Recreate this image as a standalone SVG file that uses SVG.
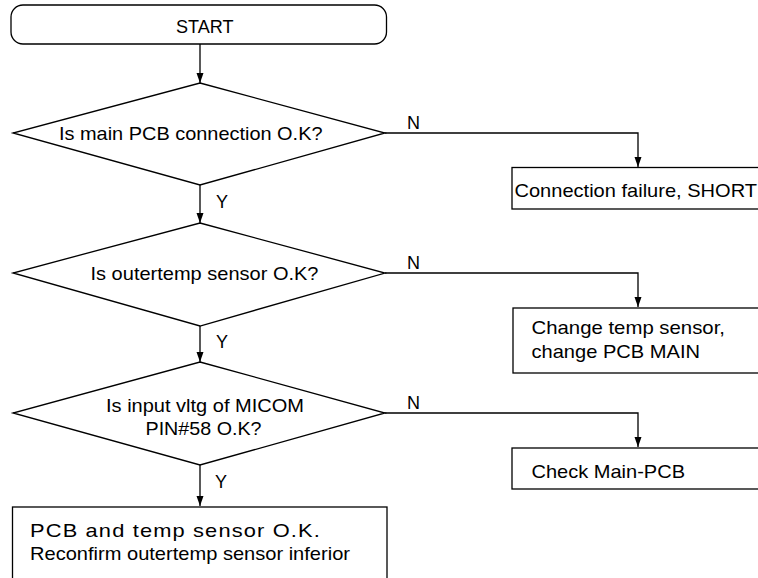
<svg xmlns="http://www.w3.org/2000/svg" width="758" height="578" viewBox="0 0 758 578">
<defs>
<style>
.s{fill:#fff;stroke:#000;stroke-width:1.3}
.c{fill:none;stroke:#000;stroke-width:1.3}
text{font-family:"Liberation Sans",Arial,sans-serif;font-size:19px;fill:#000}
.l{font-size:18px}
</style>
<marker id="ah" viewBox="0 0 10 10" refX="10" refY="5" markerWidth="10" markerHeight="10" markerUnits="userSpaceOnUse" orient="auto">
<path d="M0,1.5 L10,5 L0,8.5 Z" fill="#000"/>
</marker>
</defs>
<rect width="758" height="578" fill="#fff"/>
<g id="connectors">
<path class="c" d="M200,44 V83" marker-end="url(#ah)"/>
<path class="c" d="M200,185 V223" marker-end="url(#ah)"/>
<path class="c" d="M200,326 V362" marker-end="url(#ah)"/>
<path class="c" d="M200,465 V506" marker-end="url(#ah)"/>
<path class="c" d="M385,133 H638 V167" marker-end="url(#ah)"/>
<path class="c" d="M385,273 H638 V307" marker-end="url(#ah)"/>
<path class="c" d="M385,413 H638 V447" marker-end="url(#ah)"/>
<text class="l" x="407" y="129">N</text>
<text class="l" x="407" y="269">N</text>
<text class="l" x="407" y="409">N</text>
<text class="l" x="216" y="208">Y</text>
<text class="l" x="216" y="348">Y</text>
<text class="l" x="215" y="488">Y</text>
</g>
<g id="start">
<rect class="s" x="11" y="5" width="375.5" height="39" rx="12"/>
<text x="176" y="33" textLength="57.5" lengthAdjust="spacingAndGlyphs">START</text>
</g>
<g id="d1">
<polygon class="s" points="200,83 385,133 200,185 13,133"/>
<text x="59" y="140" textLength="263.5" lengthAdjust="spacingAndGlyphs">Is main PCB connection O.K?</text>
</g>
<g id="b1">
<rect class="s" x="512" y="167.5" width="260" height="41.5"/>
<text x="514.5" y="197" textLength="242.5" lengthAdjust="spacingAndGlyphs">Connection failure, SHORT</text>
</g>
<g id="d2">
<polygon class="s" points="200,223 385,273 200,326 13,273"/>
<text x="90.5" y="279.5" textLength="228" lengthAdjust="spacingAndGlyphs">Is outertemp sensor O.K?</text>
</g>
<g id="b2">
<rect class="s" x="513" y="308" width="260" height="65"/>
<text x="531.5" y="334" textLength="193.5" lengthAdjust="spacingAndGlyphs">Change temp sensor,</text>
<text x="531.5" y="358" textLength="168.5" lengthAdjust="spacingAndGlyphs">change PCB MAIN</text>
</g>
<g id="d3">
<polygon class="s" points="200,362 385,413 200,465 13,413"/>
<text x="106" y="412" textLength="198" lengthAdjust="spacingAndGlyphs">Is input vltg of MICOM</text>
<text x="145.5" y="435" textLength="116" lengthAdjust="spacingAndGlyphs">PIN#58 O.K?</text>
</g>
<g id="b3">
<rect class="s" x="512" y="448" width="260" height="41"/>
<text x="531.5" y="477.5" textLength="153.5" lengthAdjust="spacingAndGlyphs">Check Main-PCB</text>
</g>
<g id="b4">
<rect class="s" x="12.5" y="507" width="374.5" height="90"/>
<text x="30" y="537" letter-spacing="1" textLength="291" lengthAdjust="spacingAndGlyphs">PCB and temp sensor O.K.</text>
<text x="30" y="560" font-size="18.5" textLength="320" lengthAdjust="spacingAndGlyphs">Reconfirm outertemp sensor inferior</text>
</g>
</svg>
